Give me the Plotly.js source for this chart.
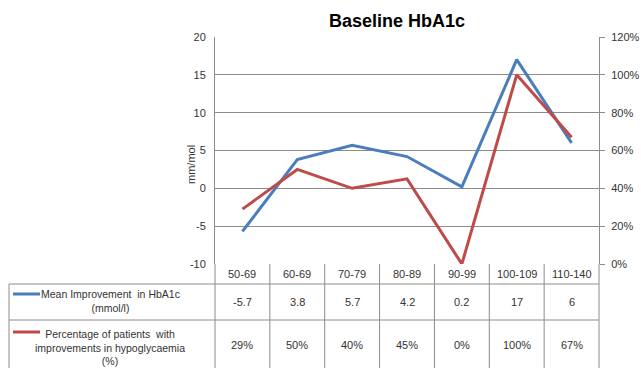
<!DOCTYPE html>
<html><head><meta charset="utf-8">
<script src="https://cdn.plot.ly/plotly-3.0.1.min.js"></script>
<style>html,body{margin:0;padding:0;background:#fff}#c{width:641px;height:368px}</style>
</head><body><div id="c"></div>
<script>
const categories = ["50-69","60-69","70-79","80-89","90-99","100-109","110-140"];
const meanImprovement = [-5.7, 3.8, 5.7, 4.2, 0.2, 17, 6];
const pctImproved = [29, 50, 40, 45, 0, 100, 67];
const meanLabels = ["-5.7","3.8","5.7","4.2","0.2","17","6"];
const leftTickVals = [-10, -5, 0, 5, 10, 15, 20];
const leftTickText = ["-10", "-5", "0", "5", "10", "15", "20"];
const seriesNames = ["Mean Improvement  in HbA1c<br>(mmol/l)", "Percentage of patients  with<br>improvements in hypoglycaemia<br>(%)"];

const W = 641, H = 368;
const px = x => x / W, py = y => 1 - y / H;
const xs = categories.map((_, i) => i);
const font = "Liberation Sans, Arial, sans-serif";
const grey = "#8c8c8c";
const txt = "#333";
const blue = "#4a7ebb", red = "#be4b48";
const xDom = [px(215), px(599)];

const traces = [
  {x: xs, y: meanImprovement, type: "scatter", mode: "lines", line: {color: blue, width: 3}, yaxis: "y", hoverinfo: "skip"},
  {x: xs, y: pctImproved.map(v => v / 100), type: "scatter", mode: "lines", line: {color: red, width: 3}, yaxis: "y2", hoverinfo: "skip"}
];

const shapes = [];
const ann = [];
const tTop = 264, r1 = 284, r2 = 320, tBot = 368, tLeft = 9;
const line = (x0, y0, x1, y1) => shapes.push({type: "line", xref: "paper", yref: "paper", x0, y0: py(y0), x1, y1: py(y1), line: {color: grey, width: 1}});
const n = categories.length;
for (let k = 0; k <= n; k++) {
  const xp = xDom[0] + (xDom[1] - xDom[0]) * k / n;
  line(xp, tTop, xp, tBot);
}
line(px(tLeft), r1, xDom[1], r1);
line(px(tLeft), r2, xDom[1], r2);
line(px(tLeft), r1, px(tLeft), tBot);
const cell = (x, xref, y, text) => ann.push({x, xref, y: py(y), yref: "paper", xanchor: "center", yanchor: "middle", text, showarrow: false, align: "center", font: {family: font, size: 11, color: txt}});
categories.forEach((c, i) => {
  cell(i, "x", 274, c);
  cell(i, "x", 302, meanLabels[i]);
  cell(i, "x", 345, pctImproved[i] + "%");
});
shapes.push({type: "line", xref: "paper", yref: "paper", x0: px(13), x1: px(40), y0: py(294), y1: py(294), line: {color: blue, width: 3}});
shapes.push({type: "line", xref: "paper", yref: "paper", x0: px(13), x1: px(40), y0: py(332), y1: py(332), line: {color: red, width: 3}});
ann.push({x: px(110), y: py(301), xref: "paper", yref: "paper", xanchor: "center", yanchor: "middle", text: seriesNames[0], showarrow: false, align: "center", font: {family: font, size: 10.5, color: txt}});
ann.push({x: px(110), y: py(347), xref: "paper", yref: "paper", xanchor: "center", yanchor: "middle", text: seriesNames[1], showarrow: false, align: "center", font: {family: font, size: 10.5, color: txt}});
ann.push({x: px(191), y: py(165), xref: "paper", yref: "paper", xanchor: "center", yanchor: "middle", text: "mm/mol", textangle: -90, showarrow: false, font: {family: font, size: 11, color: txt}});

const layout = {
  width: W, height: H,
  margin: {l: 0, r: 0, t: 0, b: 0},
  paper_bgcolor: "#fff", plot_bgcolor: "#fff",
  showlegend: false,
  title: {text: "<b>Baseline HbA1c</b>", x: px(397), xanchor: "center", y: py(21), yanchor: "middle", font: {family: font, size: 18, color: "#000"}},
  xaxis: {domain: xDom, range: [-0.5, n - 0.5], showticklabels: false, showgrid: false, zeroline: false, showline: false, ticks: "", fixedrange: true},
  yaxis: {domain: [py(264), py(37)], range: [-10, 20], tickmode: "array", tickvals: leftTickVals, ticktext: leftTickText, showgrid: true, gridcolor: grey, gridwidth: 1, zeroline: false, showline: true, linecolor: grey, ticks: "", tickfont: {family: font, size: 11, color: txt}, ticklabelstandoff: 6},
  yaxis2: {overlaying: "y", side: "right", range: [0, 1.2], dtick: 0.2, tick0: 0, tickformat: ".0%", showgrid: false, zeroline: false, showline: true, linecolor: grey, ticks: "outside", ticklen: 5, tickcolor: grey, tickfont: {family: font, size: 11, color: txt}, ticklabelstandoff: 4},
  shapes, annotations: ann
};
Plotly.newPlot("c", traces, layout, {staticPlot: true, displayModeBar: false});
</script></body></html>
